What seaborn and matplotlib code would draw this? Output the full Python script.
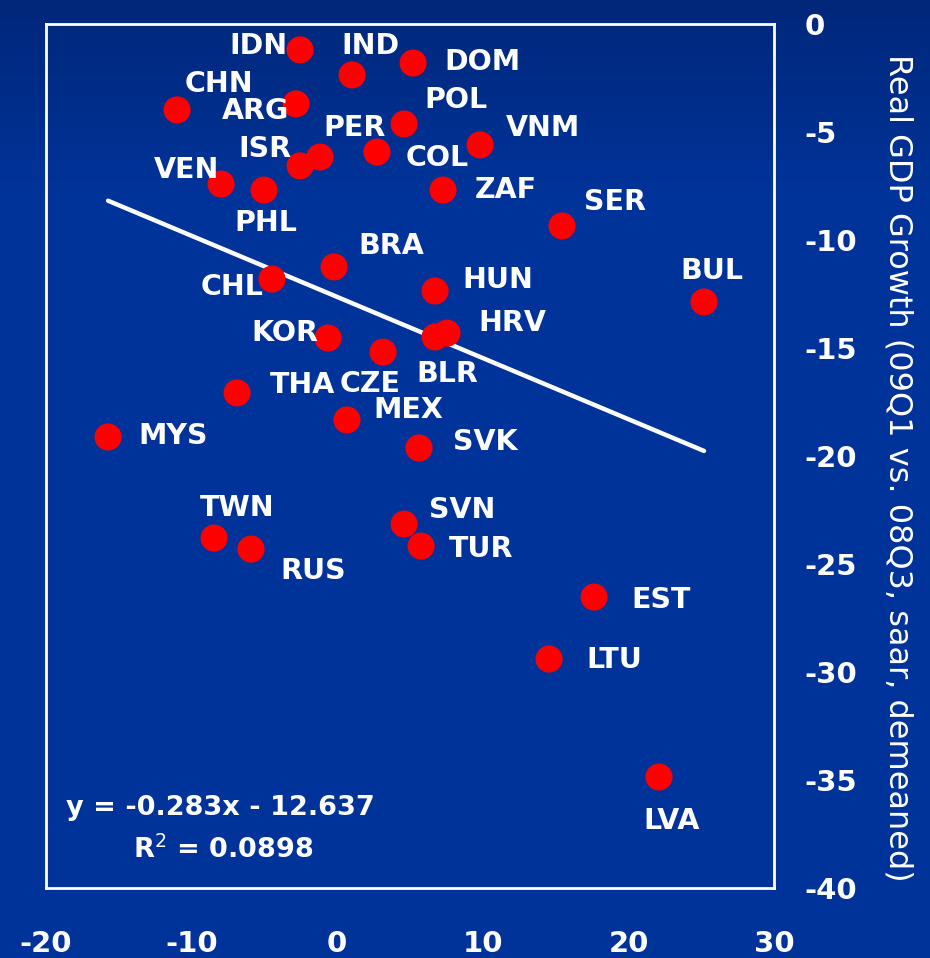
import numpy as np
import pandas as pd
import seaborn as sns
import matplotlib.pyplot as plt

countries = ["IDN", "IND", "DOM", "CHN", "ARG", "POL", "VNM", "PER", "ISR", "COL",
             "ZAF", "VEN", "PHL", "SER", "BRA", "CHL", "HUN", "BUL", "HRV", "BLR",
             "KOR", "CZE", "THA", "MEX", "MYS", "SVK", "TWN", "RUS", "SVN", "TUR",
             "EST", "LTU", "LVA"]
x_vals = [-2.55, 1.02, 5.21, -11.0, -2.83, 4.59, 9.81, -1.18, -2.55, 2.73,
          7.27, -7.98, -5.03, 15.44, -0.22, -4.48, 6.72, 25.19, 7.54, 6.72,
          -0.63, 3.15, -6.88, 0.67, -15.74, 5.62, -8.46, -5.92, 4.59, 5.76,
          17.64, 14.55, 22.1]
y_vals = [-1.20, -2.36, -1.81, -3.98, -3.70, -4.63, -5.60, -6.16, -6.57, -5.93,
          -7.69, -7.41, -7.69, -9.35, -11.25, -11.81, -12.36, -12.87, -14.31, -14.49,
          -14.54, -15.19, -17.08, -18.33, -19.12, -19.63, -23.80, -24.31, -23.15, -24.17,
          -26.53, -29.40, -34.86]
# label offsets (points) from each dot
label_dx = [-30, 13, 50, 30, -29, 37, 45, 25, -25, 43,
            45, -25, 1, 38, 41, -29, 45, 6, 47, 9,
            -31, -9, 47, 44, 47, 48, 17, 45, 42, 43,
            48, 47, 9]
label_dy = [3, 21, 1, 19, -5, 17, 12, 21, 12, -4,
            0, 10, -24, 17, 15, -6, 8, 22, 7, -27,
            4, -23, 6, 7, 1, 4, 22, -16, 10, -2,
            -2, -1, -32]

slope = -0.283
intercept = -12.637
r2 = 0.0898

x_ticks = [-20, -10, 0, 10, 20, 30]
y_ticks = [0, -5, -10, -15, -20, -25, -30, -35, -40]

df = pd.DataFrame({"country": countries, "x": x_vals, "y": y_vals})

sns.set_style("white")
plt.rcParams["font.family"] = ["DejaVu Sans"]
plt.rcParams["axes.unicode_minus"] = False

fig = plt.figure(figsize=(9.3, 9.58), dpi=100)
fig.patch.set_facecolor("#003399")

# background gradient, darker at the top
bg = fig.add_axes([0, 0, 1, 1], zorder=-1)
grad = np.linspace(0, 1, 256).reshape(-1, 1)
grad = np.clip(grad / 0.2, 0, 1)
top = np.array([0x00, 0x27, 0x7a]) / 255
bottom = np.array([0x00, 0x33, 0x99]) / 255
img = top + (bottom - top) * grad[..., None]
bg.imshow(img, aspect="auto", extent=[0, 1, 0, 1])
bg.axis("off")

ax = fig.add_axes([0.0495, 0.073, 0.7828, 0.902])
ax.set_facecolor("none")

sns.scatterplot(data=df, x="x", y="y", ax=ax, color="#ff0000", s=380,
                edgecolor="none", linewidth=0, zorder=3)

line_x = np.array([df["x"].min(), df["x"].max()])
line_df = pd.DataFrame({"x": line_x, "y": slope * line_x + intercept})
sns.lineplot(data=line_df, x="x", y="y", ax=ax, color="white", linewidth=3.2, zorder=2)

for c, xv, yv, dx, dy in zip(countries, x_vals, y_vals, label_dx, label_dy):
    ax.annotate(c, (xv, yv), xytext=(dx, dy), textcoords="offset points",
                ha="center", va="center", color="white", fontsize=20.5,
                fontweight="bold", zorder=4)

ax.text(0.028, 0.093, f"y = {slope}x - {abs(intercept)}", transform=ax.transAxes,
        color="white", fontsize=19.5, fontweight="bold", ha="left", va="center")
ax.text(0.244, 0.044, f"R$^2$ = {r2}", transform=ax.transAxes,
        color="white", fontsize=19.5, fontweight="bold", ha="center", va="center")

ax.set_xlim(-20, 30)
ax.set_ylim(-40, 0)
ax.set_xticks(x_ticks)
ax.set_yticks(y_ticks)
ax.yaxis.tick_right()
ax.tick_params(axis="x", length=0, pad=30, labelsize=21, labelcolor="white")
ax.tick_params(axis="y", length=0, pad=22, labelsize=21, labelcolor="white")
for lab in ax.get_xticklabels() + ax.get_yticklabels():
    lab.set_fontweight("bold")
ax.set_xlabel("")
ax.set_ylabel("Real GDP Growth (09Q1 vs. 08Q3, saar, demeaned)", rotation=270,
              color="white", fontsize=23)
ax.yaxis.set_label_position("right")
ax.yaxis.label.set_rotation_mode("anchor")
ax.yaxis.label.set_ha("center")
ax.yaxis.label.set_va("center")
ax.yaxis.set_label_coords(1.17, 0.486)
for sp in ax.spines.values():
    sp.set_color("white")
    sp.set_linewidth(2)
    sp.set_visible(True)

fig.savefig("out.png", dpi=100, facecolor=fig.get_facecolor())
